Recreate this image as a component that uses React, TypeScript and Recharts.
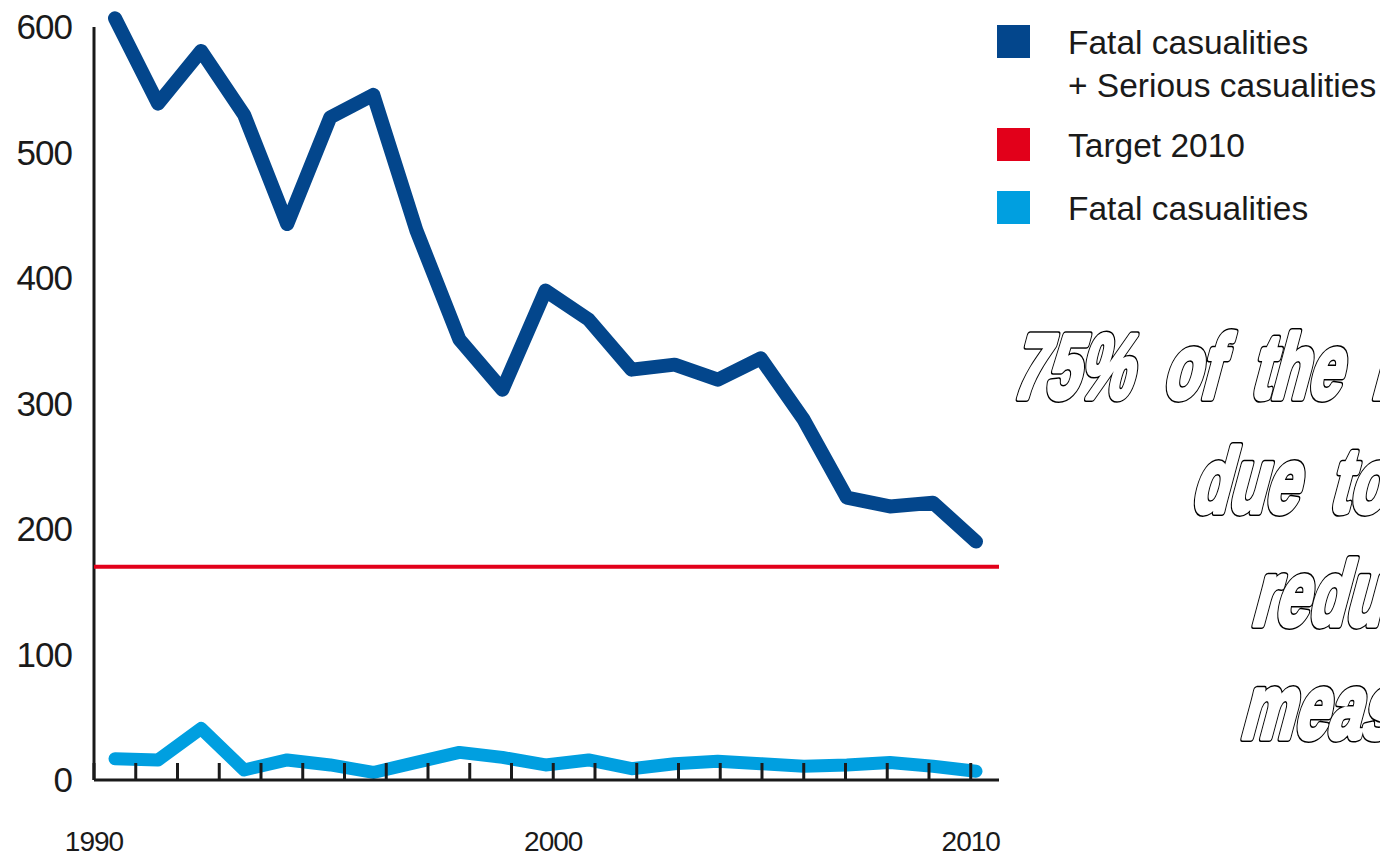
import { LineChart, Line, XAxis, YAxis, ReferenceLine, Legend } from 'recharts'

// Road casualties, 1990-2010
const YEARS = [
  1990, 1991, 1992, 1993, 1994, 1995, 1996, 1997, 1998, 1999, 2000,
  2001, 2002, 2003, 2004, 2005, 2006, 2007, 2008, 2009, 2010,
]
const FATAL_SERIOUS = [
  607, 539, 581, 530, 443, 528, 546, 438, 351, 311, 390,
  367, 327, 331, 319, 336, 287, 225, 218, 221, 190,
]
const FATAL = [
  17, 16, 41, 8, 16, 12, 6, 14, 22, 18, 12,
  16, 9, 13, 15, 13, 11, 12, 14, 11, 7,
]
const TARGET_2010 = 170

const Y_TICKS = [0, 100, 200, 300, 400, 500, 600]
// tick marks along the x axis, labels only on three of them
const X_MARKS = Array.from({ length: 22 }, (_, i) => i)
const X_LABELS: Record<number, string> = { 0: '1990', 11: '2000', 21: '2010' }

const LEGEND_ITEMS = [
  { lines: ['Fatal casualities', '+ Serious casualities'], color: '#03468c' },
  { lines: ['Target 2010'], color: '#e2001a' },
  { lines: ['Fatal casualities'], color: '#009fe0' },
]

const NOTE_LINES = ['75% of the reduction', 'due to speed', 'reduction', 'measures']

const data = YEARS.map((year, i) => ({
  year,
  mark: i,
  fatalSerious: FATAL_SERIOUS[i],
  fatal: FATAL[i],
}))

const FONT = '"Liberation Sans", Arial, Helvetica, sans-serif'
const INK = '#1a1a1a'

function LegendBox() {
  const tops = [25, 128, 191]
  return (
    <div style={{ position: 'relative', width: 390, height: 240, fontFamily: FONT }}>
      {LEGEND_ITEMS.map((item, i) => (
        <div key={i}>
          <div
            style={{
              position: 'absolute',
              left: 7,
              top: tops[i],
              width: 33,
              height: 33,
              background: item.color,
            }}
          />
          {item.lines.map((t, j) => (
            <div
              key={j}
              style={{
                position: 'absolute',
                left: 78,
                top: tops[i] + 2 + j * 43,
                fontSize: 33.5,
                lineHeight: '32px',
                color: INK,
                whiteSpace: 'nowrap',
              }}
            >
              {t}
            </div>
          ))}
        </div>
      ))}
    </div>
  )
}

function Note() {
  const pos = [
    [1010, 398],
    [1190, 512],
    [1250, 625],
    [1239, 738],
  ]
  const tf = (i: number) => `translate(${pos[i][0]},${pos[i][1]}) skewX(-15) scale(0.66,1)`
  const common = {
    fontFamily: FONT,
    fontWeight: 'bold' as const,
    fontSize: 91,
    wordSpacing: 22,
    strokeLinejoin: 'round' as const,
    vectorEffect: 'non-scaling-stroke' as const,
  }
  return (
    <svg
      width={1380}
      height={857}
      style={{ position: 'absolute', left: 0, top: 0, pointerEvents: 'none' }}
    >
      {NOTE_LINES.map((t, i) => (
        <g key={i}>
          <text transform={tf(i)} {...common} fill="#000" stroke="#000" strokeWidth={7}>
            {t}
          </text>
          <text transform={tf(i)} {...common} fill="#fff" stroke="#fff" strokeWidth={4.4}>
            {t}
          </text>
        </g>
      ))}
    </svg>
  )
}

export default function App() {
  return (
    <div style={{ position: 'absolute', left: 0, top: 0, width: 1380, height: 857, background: '#fff' }}>
      <LineChart
        width={1380}
        height={857}
        data={data}
        margin={{ top: 12, right: 381, bottom: 17, left: 14 }}
      >
        <XAxis
          xAxisId="marks"
          dataKey="mark"
          type="number"
          domain={[0, 21.677]}
          allowDataOverflow
          ticks={X_MARKS}
          interval={0}
          height={60}
          axisLine={{ stroke: INK, strokeWidth: 3 }}
          tickLine={{ stroke: INK, strokeWidth: 3 }}
          tickSize={-17}
          tickMargin={68}
          tickFormatter={(v: number) => X_LABELS[v] ?? ''}
          tick={{ fill: INK, fontSize: 28, fontFamily: FONT, letterSpacing: -1 }}
        />
        <XAxis
          xAxisId="years"
          dataKey="year"
          type="number"
          domain={[1989.512, 2010.534]}
          allowDataOverflow
          hide
          height={0}
        />
        <YAxis
          domain={[0, 612]}
          ticks={Y_TICKS}
          width={80}
          axisLine={false}
          tickLine={false}
          tickSize={0}
          tickMargin={22}
          tick={{ fill: INK, fontSize: 35, fontFamily: FONT, letterSpacing: -1 }}
        />
        <ReferenceLine
          xAxisId="marks"
          segment={[{ x: 0, y: 0 }, { x: 0, y: 600 }]}
          stroke={INK}
          strokeWidth={3}
          ifOverflow="visible"
        />
        <ReferenceLine
          xAxisId="marks"
          y={TARGET_2010}
          stroke="#e2001a"
          strokeWidth={4}
          ifOverflow="visible"
        />
        <Line
          xAxisId="years"
          dataKey="fatalSerious"
          stroke="#03468c"
          strokeWidth={14}
          strokeLinecap="round"
          strokeLinejoin="round"
          dot={false}
          activeDot={false}
          isAnimationActive={false}
        />
        <Line
          xAxisId="years"
          dataKey="fatal"
          stroke="#009fe0"
          strokeWidth={13}
          strokeLinecap="round"
          strokeLinejoin="round"
          dot={false}
          activeDot={false}
          isAnimationActive={false}
        />
        <Legend
          layout="horizontal"
          verticalAlign="middle"
          align="center"
          width={390}
          height={240}
          wrapperStyle={{ left: 990, top: 0 }}
          content={() => <LegendBox />}
        />
      </LineChart>
      <Note />
    </div>
  )
}
